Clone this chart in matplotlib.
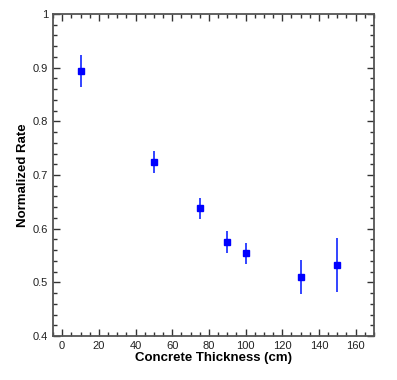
import numpy as np
import matplotlib.pyplot as plt
from matplotlib.ticker import MultipleLocator

# concrete thickness (cm) vs normalized rate
thickness = [10, 50, 75, 90, 100, 130, 150]
rate = [0.894, 0.724, 0.638, 0.575, 0.554, 0.510, 0.532]
rate_err = [0.030, 0.020, 0.020, 0.020, 0.020, 0.031, 0.050]

xticks = [0, 20, 40, 60, 80, 100, 120, 140, 160]
yticks = [0.4, 0.5, 0.6, 0.7, 0.8, 0.9, 1.0]
ytick_labels = ['0.4', '0.5', '0.6', '0.7', '0.8', '0.9', '1']

plt.rcParams['font.family'] = ['Liberation Sans', 'DejaVu Sans']

fig = plt.figure(figsize=(3.97, 3.80), dpi=100)
ax = fig.add_axes([53 / 397, 44 / 380, 321 / 397, 322 / 380])

ax.errorbar(thickness, rate, yerr=rate_err, fmt='s', color='#0000ff',
            ecolor='#3344ff', elinewidth=1.4, markersize=3.8, capsize=0)

ax.set_xlim(-5, 170)
ax.set_ylim(0.4, 1.0)
ax.set_xticks(xticks)
ax.set_yticks(yticks)
ax.set_yticklabels(ytick_labels)
ax.xaxis.set_minor_locator(MultipleLocator(5))
ax.yaxis.set_minor_locator(MultipleLocator(0.02))

ax.tick_params(which='both', direction='in', top=True, right=True,
               labelsize=8, colors='#333333', labelcolor='#222222')
ax.tick_params(which='major', length=5, width=1)
ax.tick_params(which='minor', length=3, width=1)
for s in ax.spines.values():
    s.set_color('#555555')
    s.set_linewidth(1.3)

ax.set_xlabel('Concrete Thickness (cm)', fontsize=9.5, fontweight='bold', labelpad=1)
ax.set_ylabel('Normalized Rate', fontsize=9.5, fontweight='bold', labelpad=3)

fig.savefig('out.png', dpi=100)
